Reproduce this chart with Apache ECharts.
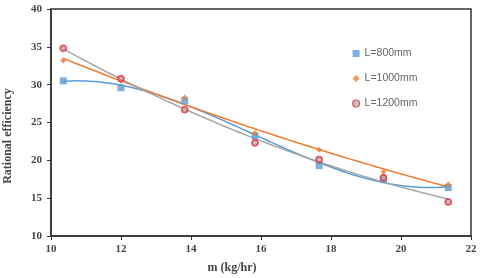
<!DOCTYPE html>
<html><head><meta charset="utf-8">
<script src="https://cdn.jsdelivr.net/npm/echarts@6/dist/echarts.min.js"></script>
<style>html,body{margin:0;padding:0;background:#fff}#c{width:480px;height:278px}</style>
</head><body><div id="c"></div>
<script>
const massFlow = [10.35, 12.0, 13.82, 15.83, 17.66, 19.5, 21.35];
const eff800  = [30.5, 29.6, 27.9, 23.2, 19.3, 17.5, 16.4];
const eff1000 = [33.2, 30.5, 28.3, 23.6, 21.4, 18.5, 16.8];
const eff1200 = [34.8, 30.8, 26.7, 22.3, 20.1, 17.7, 14.5];
const xTicks = [10, 12, 14, 16, 18, 20, 22];
const yTicks = [10, 15, 20, 25, 30, 35, 40];

// least-squares polynomial trendline (derived from the data arrays)
function polyfit(xs, ys, deg) {
  const n = deg + 1;
  const A = Array.from({length: n}, () => new Array(n + 1).fill(0));
  for (let k = 0; k < xs.length; k++) {
    for (let i = 0; i < n; i++) {
      for (let j = 0; j < n; j++) A[i][j] += Math.pow(xs[k], i + j);
      A[i][n] += ys[k] * Math.pow(xs[k], i);
    }
  }
  for (let i = 0; i < n; i++) {
    let p = i;
    for (let r = i + 1; r < n; r++) if (Math.abs(A[r][i]) > Math.abs(A[p][i])) p = r;
    [A[i], A[p]] = [A[p], A[i]];
    for (let r = 0; r < n; r++) {
      if (r === i) continue;
      const f = A[r][i] / A[i][i];
      for (let c = i; c <= n; c++) A[r][c] -= f * A[i][c];
    }
  }
  return A.map((row, i) => row[n] / row[i]);
}
function trend(xs, ys, deg) {
  const c = polyfit(xs, ys, deg);
  const out = [];
  const x0 = xs[0], x1 = xs[xs.length - 1];
  for (let i = 0; i <= 60; i++) {
    const x = x0 + (x1 - x0) * i / 60;
    let y = 0;
    for (let j = 0; j < c.length; j++) y += c[j] * Math.pow(x, j);
    out.push([x, y]);
  }
  return out;
}
const pts = (ys) => massFlow.map((x, i) => [x, ys[i]]);

const serif = 'Liberation Serif';
const chart = echarts.init(document.getElementById('c'), null, {renderer: 'canvas'});
chart.setOption({
  animation: false,
  grid: {left: 51, top: 9, right: 9, bottom: 42, show: true, borderColor: '#333', borderWidth: 1.5},
  xAxis: {
    type: 'value', min: 10, max: 22, interval: 2,
    axisLine: {lineStyle: {color: '#333', width: 1.5}},
    axisTick: {show: true, length: 4, lineStyle: {color: '#333'}},
    splitLine: {show: false},
    axisLabel: {color: '#444', fontFamily: serif, fontWeight: 'bold', fontSize: 11, margin: 8,
      formatter: v => xTicks.includes(v) ? String(v) : ''}
  },
  yAxis: {
    type: 'value', min: 10, max: 40, interval: 5,
    axisLine: {show: true, lineStyle: {color: '#333', width: 1.5}},
    axisTick: {show: true, length: 4, lineStyle: {color: '#333'}},
    splitLine: {show: false},
    axisLabel: {color: '#444', fontFamily: serif, fontWeight: 'bold', fontSize: 11, margin: 9,
      formatter: v => yTicks.includes(v) ? String(v) : ''}
  },
  legend: {
    orient: 'vertical', left: 347, top: 43, itemGap: 14, itemWidth: 7, itemHeight: 7,
    textStyle: {color: '#666', fontFamily: 'Liberation Sans', fontSize: 10.5},
    data: [
      {name: 'L=800mm'},
      {name: 'L=1000mm'},
      {name: 'L=1200mm', itemStyle: {borderWidth: 1.2}}
    ]
  },
  graphic: [
    {type: 'text', x: 8, y: 136, rotation: Math.PI / 2,
     style: {text: 'Rational efficiency', font: 'bold 12px "Liberation Serif"', fill: '#444', align: 'center', verticalAlign: 'middle'}},
    {type: 'text', x: 232, y: 268,
     style: {text: 'm (kg/hr)', font: 'bold 12px "Liberation Serif"', fill: '#444', align: 'center', verticalAlign: 'middle'}}
  ],
  series: [
    {name: 'T800', type: 'line', data: trend(massFlow, eff800, 3), showSymbol: false, smooth: true,
     lineStyle: {color: '#5B9BD5', width: 1.5}, z: 2, silent: true},
    {name: 'T1000', type: 'line', data: trend(massFlow, eff1000, 2), showSymbol: false, smooth: true,
     lineStyle: {color: '#ED7D31', width: 1.5}, z: 2, silent: true},
    {name: 'T1200', type: 'line', data: trend(massFlow, eff1200, 2), showSymbol: false, smooth: true,
     lineStyle: {color: '#A5A5A5', width: 1.5}, z: 2, silent: true},
    {name: 'L=800mm', type: 'scatter', data: pts(eff800), symbol: 'rect', symbolSize: 7,
     itemStyle: {color: '#5B9BD5'}, z: 3},
    {name: 'L=1000mm', type: 'scatter', data: pts(eff1000), symbol: 'diamond', symbolSize: 6,
     itemStyle: {color: '#ED7D31'}, z: 3},
    {name: 'L=1200mm', type: 'scatter', data: pts(eff1200), symbol: 'circle', symbolSize: 6,
     itemStyle: {color: '#B0B0B0', borderColor: '#E8303A', borderWidth: 1.8}, z: 4}
  ]
});
</script></body></html>
